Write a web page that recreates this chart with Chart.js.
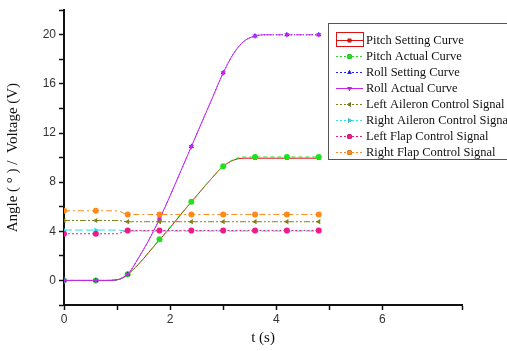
<!DOCTYPE html>
<html>
<head>
<meta charset="utf-8">
<script src="https://cdn.jsdelivr.net/npm/chart.js@4.4.0/dist/chart.umd.min.js"></script>
<style>
  html, body { margin: 0; padding: 0; background: #fff; }
  #wrap { width: 507px; height: 351px; }
</style>
</head>
<body>
<div id="wrap"><canvas id="chart"></canvas></div>
<script>
// time samples (s)
const times = [0, 0.2, 0.4, 0.6, 0.8, 1.0, 1.2, 1.4, 1.6, 1.8, 2.0, 2.2, 2.4,
  2.6, 2.8, 3.0, 3.2, 3.4, 3.6, 3.8, 4.0, 4.2, 4.4, 4.6, 4.8];

const pitchSetting = [0, 0, 0, 0, 0, 0.05, 0.5, 1.3, 2.3, 3.3, 4.3, 5.35, 6.4,
  7.4, 8.4, 9.3, 9.8, 9.95, 9.95, 9.95, 9.95, 9.95, 9.95, 9.95, 9.95];
const pitchActual = [0, 0, 0, 0, 0, 0.05, 0.5, 1.3, 2.3, 3.35, 4.35, 5.4, 6.4,
  7.4, 8.4, 9.3, 9.85, 10.05, 10.05, 10.05, 10.05, 10.05, 10.05, 10.05, 10.05];
const rollSetting = [0, 0, 0, 0, 0, 0.05, 0.5, 1.8, 3.3, 5.0, 6.9, 8.9, 10.9,
  12.9, 14.9, 16.9, 18.5, 19.5, 19.9, 20, 20, 20, 20, 20, 20];
const rollActual = [0, 0, 0, 0, 0, 0.05, 0.5, 1.8, 3.3, 5.0, 6.9, 8.9, 10.9,
  12.9, 14.9, 16.9, 18.5, 19.5, 19.9, 20, 20, 20, 20, 20, 20];
const leftAileron = [4.88, 4.88, 4.88, 4.88, 4.88, 4.88, 4.78, 4.78, 4.78, 4.78, 4.78, 4.78, 4.78,
  4.78, 4.78, 4.78, 4.78, 4.78, 4.78, 4.78, 4.78, 4.78, 4.78, 4.78, 4.78];
const rightAileron = [4.1, 4.1, 4.1, 4.1, 4.1, 4.1, 4.02, 4.02, 4.02, 4.02, 4.02, 4.02, 4.02,
  4.02, 4.02, 4.02, 4.02, 4.02, 4.02, 4.02, 4.02, 4.02, 4.02, 4.02, 4.02];
const leftFlap = [3.8, 3.8, 3.8, 3.8, 3.8, 3.8, 4.07, 4.07, 4.07, 4.07, 4.07, 4.07, 4.07,
  4.07, 4.07, 4.07, 4.07, 4.07, 4.07, 4.07, 4.07, 4.07, 4.07, 4.07, 4.07];
const rightFlap = [5.67, 5.67, 5.67, 5.67, 5.67, 5.67, 5.37, 5.37, 5.37, 5.37, 5.37, 5.37, 5.37,
  5.37, 5.37, 5.37, 5.37, 5.37, 5.37, 5.37, 5.37, 5.37, 5.37, 5.37, 5.37];

const seriesNames = ["Pitch Setting Curve", "Pitch Actual Curve", "Roll Setting Curve",
  "Roll Actual Curve", "Left Aileron Control Signal", "Right Aileron Control Signal",
  "Left Flap Control Signal", "Right Flap Control Signal"];

const yTicks = [0, 4, 8, 12, 16, 20];
const xTicks = [0, 2, 4, 6];

// a marker on every third sample (every 0.6 s)
const markerRadius = (r) => (ctx) => (ctx.dataIndex % 3 === 0 ? r : 0);

function series(i, values, color, dash, pointStyle, rotation, extra) {
  return Object.assign({
    label: seriesNames[i],
    data: times.map((t, k) => ({ x: t, y: values[k] })),
    borderColor: color,
    backgroundColor: color,
    borderWidth: 1,
    borderDash: dash,
    pointStyle: pointStyle,
    rotation: rotation,
    pointRadius: markerRadius(3),
    pointBorderWidth: 0,
    cubicInterpolationMode: "monotone",
    order: 8 - i,
  }, extra || {});
}

const datasets = [
  series(0, pitchSetting, "#e01010", [], "rect", 0, { pointRadius: markerRadius(2.5) }),
  series(1, pitchActual, "#20e020", [4, 3], "circle", 0),
  series(2, rollSetting, "#2020ff", [1, 2], "triangle", 0),
  series(3, rollActual, "#cc22ee", [], "triangle", 180, {
    segment: { borderDash: (ctx) => (ctx.p0DataIndex >= 19 ? [7, 3] : undefined) },
  }),
  series(4, leftAileron, "#808018", [6, 2, 2, 2, 2, 2], "triangle", -90),
  series(5, rightAileron, "#30e0e8", [8, 3], "triangle", 90),
  series(6, leftFlap, "#f0188a", [2, 2], "circle", 0),
  series(7, rightFlap, "#ff8a18", [6, 3, 2, 3], "circle", 0),
];

// Origin-style legend box drawn inside the plot
const boxLegend = {
  id: "boxLegend",
  afterDraw(chart) {
    const ctx = chart.ctx;
    const left = 328, top = 23, rowH = 16, firstY = 40;
    ctx.save();
    ctx.strokeStyle = "#555";
    ctx.lineWidth = 1;
    ctx.strokeRect(left + 0.5, top + 0.5, 200, 136);
    ctx.font = "12.5px 'Liberation Serif', 'Times New Roman', serif";
    ctx.textBaseline = "middle";
    chart.data.datasets.forEach((ds, i) => {
      const y = firstY + i * rowH;
      ctx.strokeStyle = ds.borderColor;
      ctx.lineWidth = 1;
      ctx.setLineDash(ds.borderDash.length ? [2, 2] : []);
      ctx.beginPath();
      ctx.moveTo(336, y + 0.5);
      ctx.lineTo(363, y + 0.5);
      ctx.stroke();
      ctx.setLineDash([]);
      if (i === 0) {
        ctx.strokeStyle = ds.borderColor;
        ctx.strokeRect(336.5, y - 7.5, 27, 14);
      }
      Chart.helpers.drawPoint(ctx, {
        pointStyle: ds.pointStyle, rotation: ds.rotation, radius: 2.5, borderWidth: 0,
      }, 349.5, y + 0.5);
      ctx.fillStyle = ds.backgroundColor;
      ctx.fill();
      ctx.fillStyle = "#111";
      ctx.fillText(ds.label, 366, y + 1);
    });
    ctx.restore();
  },
};

const tickFont = { family: "'Liberation Sans', Arial, sans-serif", size: 12 };
const titleFont = { family: "'Liberation Serif', 'Times New Roman', serif", size: 15 };

new Chart(document.getElementById("chart"), {
  type: "line",
  data: { datasets: datasets },
  options: {
    responsive: true,
    maintainAspectRatio: false,
    animation: false,
    layout: { padding: { left: 0, right: 45, top: 8, bottom: 0 } },
    plugins: { legend: { display: false }, tooltip: { enabled: false } },
    scales: {
      x: {
        type: "linear",
        min: 0,
        max: 7.5,
        afterFit: (s) => { s.height = 46; },
        border: { color: "#111", width: 2 },
        grid: { drawOnChartArea: false, tickLength: 5, color: "#111", tickWidth: 1.5 },
        ticks: {
          stepSize: 1,
          autoSkip: false,
          maxRotation: 0,
          color: "#333",
          font: tickFont,
          padding: 2,
          callback: (v) => (xTicks.includes(v) ? String(v) : ""),
        },
        title: { display: true, text: "t (s)", color: "#111", font: titleFont, padding: { top: 0 } },
      },
      y: {
        min: -2,
        max: 22,
        afterFit: (s) => { s.width = 64; },
        border: { color: "#111", width: 2 },
        grid: { drawOnChartArea: false, tickLength: 5, color: "#111", tickWidth: 1.5 },
        ticks: {
          stepSize: 2,
          autoSkip: false,
          color: "#333",
          font: tickFont,
          padding: 3,
          callback: (v) => (yTicks.includes(v) ? String(v) : ""),
        },
        title: { display: true, text: "Angle ( ° ) /  Voltage (V)", color: "#111", font: titleFont, padding: { bottom: 2 } },
      },
    },
  },
  plugins: [boxLegend],
});
</script>
</body>
</html>
